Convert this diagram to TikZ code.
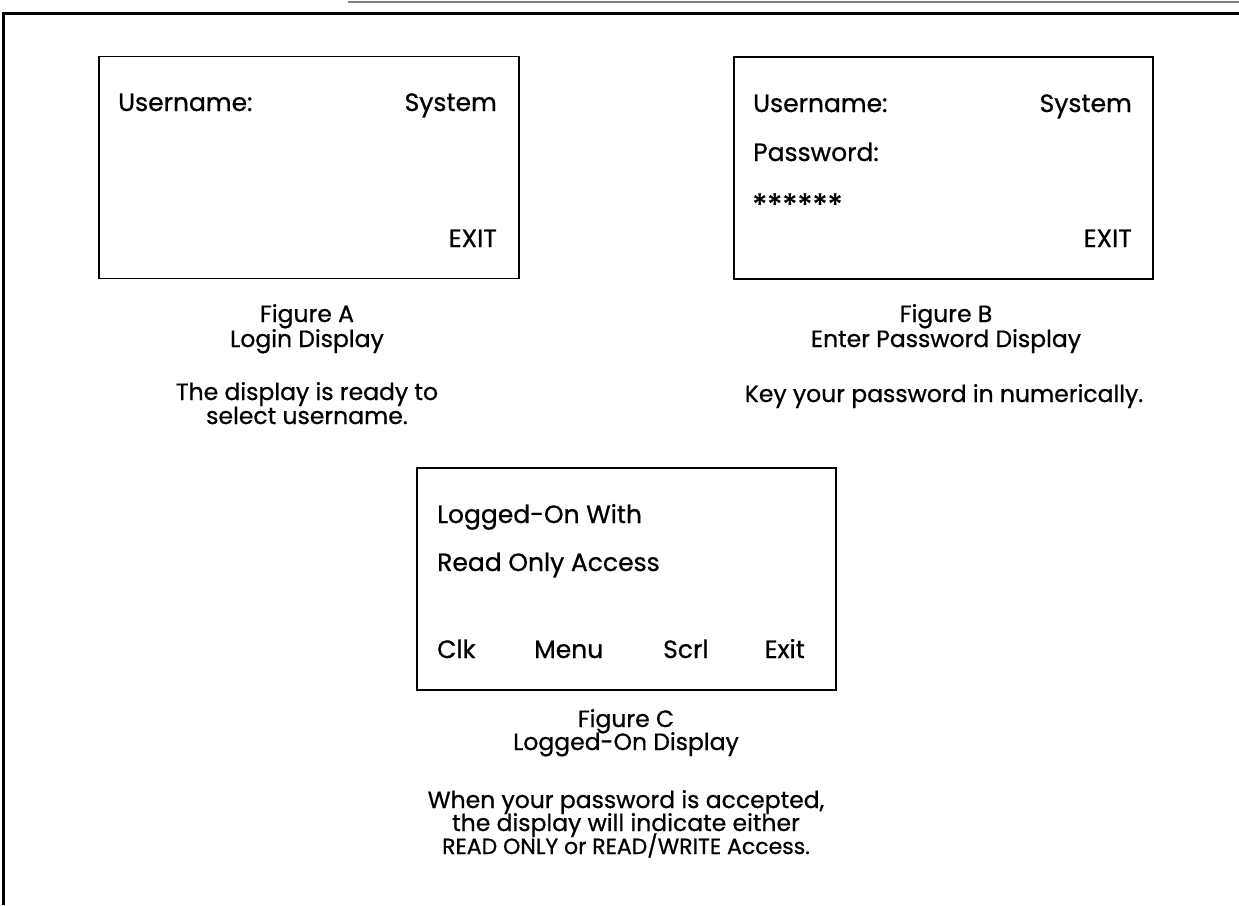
\documentclass[tikz,border=0pt]{standalone}
\usepackage{fontspec}
\setmainfont{Poppins}[FakeBold=0.8]
\begin{document}
\begin{tikzpicture}[x=1pt,y=-1pt,
  screen/.style={draw=black,line width=1.5pt},
  boxtxt/.style={inner sep=0pt,font=\fontsize{25}{28}\selectfont},
  captxt/.style={inner sep=0pt,anchor=base,font=\fontsize{23.5}{25}\selectfont}]
\useasboundingbox (0,0) rectangle (1239,905);
% frame
\coordinate (gl) at (348,2); \coordinate (gr) at (1239,2);
\draw[gray,line width=1.5pt] (gl) -- (gr);
\coordinate (fb) at (3.5,905); \coordinate (ftl) at (3.5,13.5); \coordinate (ftr) at (1239,13.5);
\draw[line width=2.5pt,line join=miter] (fb) -- (ftl) -- (ftr);
% Box A
\draw[screen] (99,56.5) rectangle (519,278.5);
\node[boxtxt,anchor=base west] (aU) at (118,111) {Username:};
\node[boxtxt,anchor=base east] (aS) at (497,111) {System};
\node[boxtxt,anchor=base east] (aE) at (497,247) {EXIT};
\node[captxt] (aC1) at (307,322) {Figure A};
\node[captxt] (aC2) at (307,347) {Login Display};
\node[captxt] (aC3) at (307,400) {The display is ready to};
\node[captxt] (aC4) at (307,424) {select username.};
% Box B
\draw[screen] (734,57) rectangle (1153,279);
\node[boxtxt,anchor=base west] (bU) at (753,112) {Username:};
\node[boxtxt,anchor=base east] (bS) at (1132,112) {System};
\node[boxtxt,anchor=base west] (bP) at (753,161) {Password:};
\node[inner sep=0pt,anchor=base west,font=\fontsize{31}{34}\selectfont] (bA) at (752,216) {******};
\node[boxtxt,anchor=base east] (bE) at (1132,247) {EXIT};
\node[captxt] (bC1) at (946,322) {Figure B};
\node[captxt] (bC2) at (946,347) {Enter Password Display};
\node[captxt] (bC3) at (944,402) {Key your password in numerically.};
% Box C
\draw[screen] (417,468) rectangle (836,690);
\node[boxtxt,anchor=base west] (cL1) at (437,523) {Logged-On With};
\node[boxtxt,anchor=base west] (cL2) at (437,571) {Read Only Access};
\node[boxtxt,anchor=base west] (cK) at (437,658) {Clk};
\node[boxtxt,anchor=base west] (cM) at (534,658) {Menu};
\node[boxtxt,anchor=base west] (cS) at (663,658) {Scrl};
\node[boxtxt,anchor=base east] (cE) at (805,658) {Exit};
\node[captxt] (cC1) at (626,727) {Figure C};
\node[captxt] (cC2) at (626,750) {Logged-On Display};
\node[captxt] (cC3) at (626,808) {When your password is accepted,};
\node[captxt] (cC4) at (626,831) {the display will indicate either};
\node[captxt,font=\fontsize{22}{25}\selectfont] (cC5) at (626,854) {READ ONLY or READ/WRITE Access.};
\end{tikzpicture}
\end{document}
